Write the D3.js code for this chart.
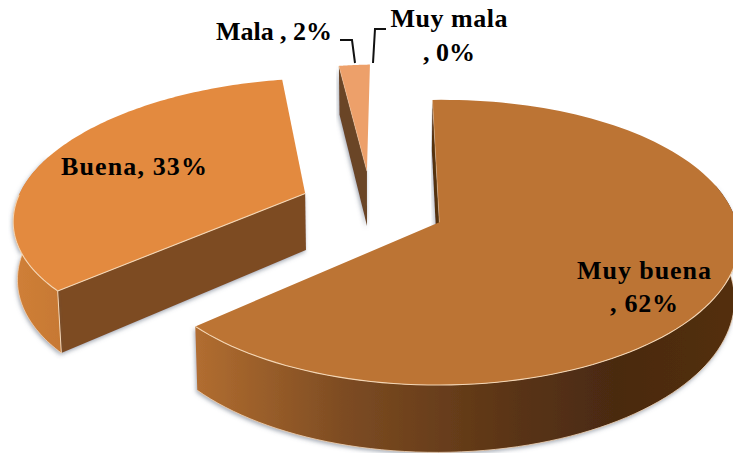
<!DOCTYPE html>
<html>
<head>
<meta charset="utf-8">
<script src="https://cdnjs.cloudflare.com/ajax/libs/d3/7.8.5/d3.min.js"></script>
<style>
    html, body { margin: 0; padding: 0; background: #fff; overflow: hidden; }
    text { font-family: "Liberation Serif", serif; font-weight: bold; fill: #000; }
</style>
</head>
<body>
<svg id="chart" width="733" height="453"></svg>
<script>
// chart data
var categories = ["Muy buena", "Buena", "Mala", "Muy mala"];
var percents = [62, 33, 2, 0];

var width = 733, height = 453;

// projection of the tilted pie
var cx = 372, cy = 209, radius = 293, tilt = 136, depth = 57;
var persp = 0.14, shear = 13;

// how far each slice is pulled out, its size and a small nudge on screen
var sliceLayout = {
    "Muy buena": { explode: 0.25, scale: 1, dx: 0, dy: 0 },
    "Buena": { explode: 0.24, scale: 0.985, dx: -2, dy: -5 },
    "Mala": { explode: 0.29, scale: 0.96, dx: 0, dy: 0 }
};

var topColor = { "Muy buena": "#bc7434", "Buena": "#e38a3f", "Mala": "#eda06a" };
var wallColor = { "Muy buena": "#54300f", "Buena": "#7d4c22", "Mala": "#6b4526" };
var edgeColor = "#f4d6b4";

var svg = d3.select("#chart");
var defs = svg.append("defs");

function addGradient(id, x1, x2, stops) {
    var g = defs.append("linearGradient").attr("id", id)
        .attr("gradientUnits", "userSpaceOnUse")
        .attr("x1", x1).attr("x2", x2).attr("y1", 0).attr("y2", 0);
    stops.forEach(function (s) {
        g.append("stop").attr("offset", s[0]).attr("stop-color", s[1]);
    });
}
addGradient("rim-Muy-buena", 197, 733, [[0, "#b16d30"], [0.28, "#7c4b22"], [0.59, "#5a3415"], [0.78, "#4a2a11"], [1, "#532f10"]]);
addGradient("rim-Buena", 13, 65, [[0, "#d08038"], [1, "#c67833"]]);

var shadow = defs.append("filter").attr("id", "soft")
    .attr("x", "-10%").attr("y", "-10%").attr("width", "120%").attr("height", "120%");
shadow.append("feDropShadow").attr("dx", -1).attr("dy", 2).attr("stdDeviation", 2)
    .attr("flood-color", "#5a6478").attr("flood-opacity", 0.55);

function project(X, Y, z) {
    var s = 1 / (1 + persp * Y);
    var k = 1 - 0.012 * z;
    return [cx + X * radius * s * k + shear * Y, cy - Y * tilt * s + z * depth * s];
}

var line = d3.line();

var pie = d3.pie().sort(null)
    .startAngle(-2.5 * Math.PI / 180)
    .endAngle(357.5 * Math.PI / 180);
var slices = pie(percents);

function drawSlice(d, i) {
    if (d.value === 0) return;
    var name = categories[i];
    var layout = sliceLayout[name];
    var mid = (d.startAngle + d.endAngle) / 2;
    var ox = layout.explode * Math.sin(mid), oy = layout.explode * Math.cos(mid);
    var rimPoint = function (a, z) {
        return project(ox + layout.scale * Math.sin(a), oy + layout.scale * Math.cos(a), z);
    };
    var g = svg.append("g").attr("class", "slice")
        .attr("transform", "translate(" + layout.dx + "," + layout.dy + ")");
    var angles = d3.range(0, 121).map(function (t) {
        return d.startAngle + (d.endAngle - d.startAngle) * t / 120;
    });

    // flat wall along the start edge
    g.append("path")
        .attr("d", line([
            project(ox, oy, 0),
            rimPoint(d.startAngle, 0),
            rimPoint(d.startAngle, 1),
            project(ox, oy, 1)
        ]) + "Z")
        .attr("fill", wallColor[name])
        .attr("filter", "url(#soft)");

    // outer wall, kept a little past the silhouette since the top face covers the rest
    var front = angles.filter(function (a) { return Math.cos(a) < 0.3; });
    if (name !== "Mala") {
        var upper = front.map(function (a) { return rimPoint(a, 0); });
        var lower = front.map(function (a) { return rimPoint(a, 1); }).reverse();
        g.append("path")
            .attr("d", line(upper.concat(lower)) + "Z")
            .attr("fill", "url(#rim-" + name.replace(" ", "-") + ")")
            .attr("filter", "url(#soft)");
        g.append("path")
            .attr("d", line(lower))
            .attr("fill", "none").attr("stroke", edgeColor).attr("stroke-width", 0.8);
    }

    // top face
    var face = [project(ox, oy, 0)].concat(angles.map(function (a) { return rimPoint(a, 0); }));
    g.append("path")
        .attr("d", line(face) + "Z")
        .attr("fill", topColor[name]);

    // light bevel on the front edges
    if (name !== "Mala") {
        g.append("path")
            .attr("d", line(angles.filter(function (a) { return Math.cos(a) < 0; })
                .map(function (a) { return rimPoint(a, 0); })))
            .attr("fill", "none").attr("stroke", edgeColor).attr("stroke-width", 1.1);
    }
    g.append("path")
        .attr("d", line([project(ox, oy, 0), rimPoint(d.startAngle, 0)]))
        .attr("fill", "none").attr("stroke", edgeColor)
        .attr("stroke-width", name === "Buena" ? 1.1 : 0.4);
    if (name === "Buena") {
        g.append("path")
            .attr("d", line([rimPoint(d.startAngle, 0), rimPoint(d.startAngle, 1)]))
            .attr("fill", "none").attr("stroke", edgeColor).attr("stroke-width", 1);
    }
}

slices.forEach(drawSlice);

// leader lines of the two small slices
var leaders = [
    [[340, 40], [352, 40], [355, 63]],
    [[386, 29], [375, 29], [373, 63]]
];
svg.selectAll(".leader").data(leaders).enter().append("path")
    .attr("class", "leader")
    .attr("d", function (d) { return line(d); })
    .attr("fill", "none").attr("stroke", "#111").attr("stroke-width", 2);

// data labels, split the way the original wraps them
var labelLayout = [
    { i: 0, wrap: true, x: 644, y: 279, dy: 33, w: 134, w2: 68 },
    { i: 1, wrap: false, x: 134, y: 175, w: 146 },
    { i: 2, wrap: false, x: 274, y: 40, w: 116 },
    { i: 3, wrap: true, x: 449, y: 27, dy: 34, w: 117, w2: 52 }
];
labelLayout.forEach(function (l) {
    var name = categories[l.i], pct = ", " + percents[l.i] + "%";
    var t = svg.append("text").attr("text-anchor", "middle").attr("font-size", 26);
    if (l.wrap) {
        t.append("tspan").attr("x", l.x).attr("y", l.y).attr("textLength", l.w).text(name);
        t.append("tspan").attr("x", l.x).attr("y", l.y + l.dy).attr("textLength", l.w2).text(pct);
    } else {
        t.attr("x", l.x).attr("y", l.y).attr("textLength", l.w)
            .text(name === "Buena" ? name + pct : name + " " + pct);
    }
});
</script>
</body>
</html>
